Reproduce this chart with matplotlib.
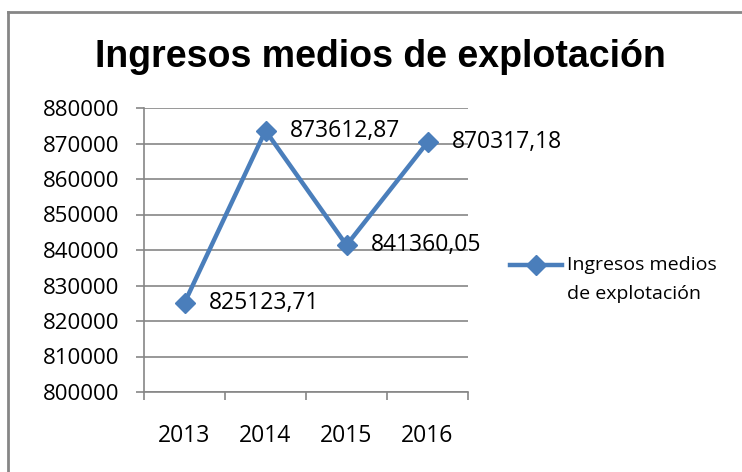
import matplotlib.pyplot as plt
from matplotlib.lines import Line2D

# datos
years = ['2013', '2014', '2015', '2016']
ingresos = [825123.71, 873612.87, 841360.05, 870317.18]
etiquetas = ['825123,71', '873612,87', '841360,05', '870317,18']
y_ticks = [800000, 810000, 820000, 830000, 840000, 850000, 860000, 870000, 880000]

W, H = 742, 472
color_linea = '#4A7EBB'
gris = '#868686'
fuente = ['Open Sans', 'DejaVu Sans']

fig = plt.figure(figsize=(W / 100, H / 100), dpi=100)

# marco del gráfico (solo izquierda y arriba visibles)
fig.add_artist(Line2D([8 / W, 8 / W], [0, 1 - 12 / H], color=gris, lw=2))
fig.add_artist(Line2D([8 / W, 1], [1 - 12 / H, 1 - 12 / H], color=gris, lw=2))

ax = fig.add_axes([144 / W, (H - 392) / H, (468 - 144) / W, (392 - 108) / H])

x = list(range(len(years)))
ax.plot(x, ingresos, color=color_linea, lw=3.2, marker='D', markersize=10,
        markerfacecolor=color_linea, markeredgecolor=color_linea, zorder=3)

# etiquetas de datos
for xi, yi, lab in zip(x, ingresos, etiquetas):
    ax.annotate(lab, (xi, yi), xytext=(24, 0), textcoords='offset pixels',
                ha='left', va='center', fontsize=16.5, family=fuente, color='black')

ax.set_xlim(-0.5, 3.5)
ax.set_ylim(800000, 880000)
ax.set_yticks(y_ticks)
ax.set_yticklabels([str(v) for v in y_ticks], family=fuente, fontsize=16)
ax.set_xticks(x)
ax.set_xticklabels(years, family=fuente, fontsize=16.5)
ax.set_xticks([-0.5, 0.5, 1.5, 2.5, 3.5], minor=True)
ax.tick_params(axis='x', which='major', length=0, pad=23)
ax.tick_params(axis='x', which='minor', length=6, color=gris, width=1.2, direction='out')
ax.tick_params(axis='y', length=6, color=gris, width=1.2, pad=12)

ax.grid(axis='y', color=gris, lw=1.2)
ax.set_axisbelow(True)
for s in ['top', 'right']:
    ax.spines[s].set_visible(False)
for s in ['left', 'bottom']:
    ax.spines[s].set_color(gris)
    ax.spines[s].set_linewidth(1.2)

# título
fig.text(380 / W, 1 - 57 / H, 'Ingresos medios de explotación', ha='center', va='center',
         fontsize=27, fontweight='bold', family=['Liberation Sans', 'DejaVu Sans'])

# leyenda
fig.add_artist(Line2D([510 / W, 562 / W], [1 - 265 / H, 1 - 265 / H], color=color_linea, lw=3.2))
fig.add_artist(Line2D([536 / W], [1 - 265 / H], color=color_linea, marker='D', markersize=10))
fig.text(567 / W, 1 - 265 / H, 'Ingresos medios', ha='left', va='center', fontsize=14, family=fuente)
fig.text(567 / W, 1 - 294 / H, 'de explotación', ha='left', va='center', fontsize=14, family=fuente)

fig.savefig('out.png', dpi=100)
